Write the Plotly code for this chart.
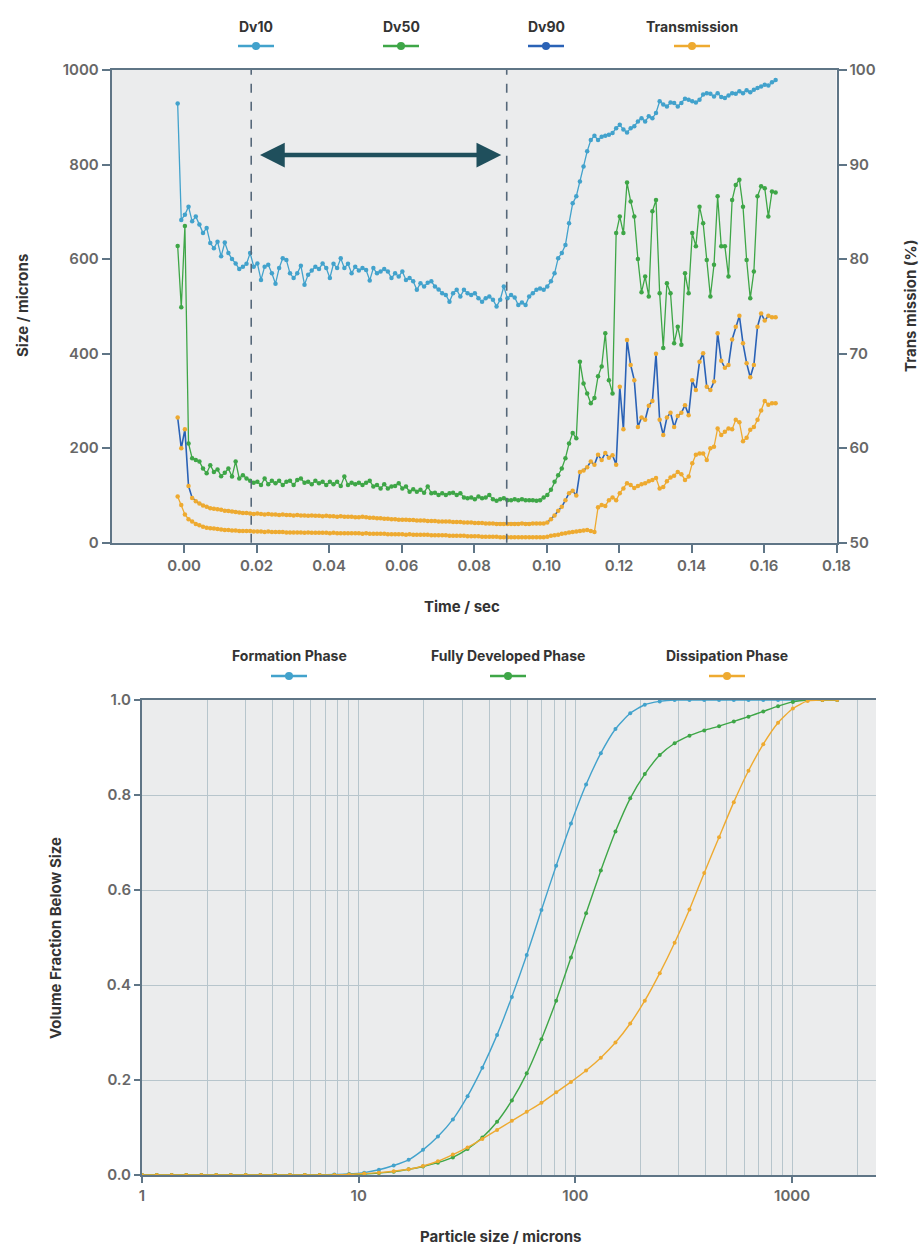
import plotly.graph_objects as go

# ---------------- data: spray time history ----------------
time_start = -0.0018
time_step = 0.001

dv10 = [929, 683, 694, 711, 680, 690, 673, 655, 666, 634,
        623, 637, 606, 635, 613, 600, 591, 579, 584, 590,
        613, 584, 591, 556, 584, 588, 570, 548, 581, 602,
        598, 570, 560, 570, 586, 546, 567, 576, 584, 579,
        591, 581, 560, 590, 581, 602, 581, 590, 570, 584,
        576, 581, 577, 555, 581, 570, 574, 579, 574, 560,
        570, 563, 574, 556, 560, 553, 535, 549, 542, 550,
        553, 542, 536, 528, 524, 510, 528, 535, 521, 535,
        528, 524, 528, 517, 510, 517, 521, 514, 500, 514,
        542, 517, 524, 519, 503, 508, 503, 521, 528, 535,
        538, 535, 542, 553, 570, 602, 613, 630, 676, 718,
        733, 764, 796, 828, 852, 861, 852, 859, 861, 863,
        867, 877, 884, 874, 868, 877, 881, 891, 898, 891,
        902, 898, 909, 934, 927, 923, 931, 930, 923, 930,
        939, 937, 934, 931, 937, 948, 951, 950, 944, 951,
        943, 941, 946, 951, 950, 955, 951, 957, 953, 958,
        962, 965, 969, 967, 974, 979]

dv50 = [628, 498, 670, 210, 179, 175, 172, 157, 147, 164,
        150, 155, 141, 148, 157, 140, 172, 136, 143, 136,
        131, 127, 129, 122, 136, 124, 131, 126, 131, 122,
        129, 131, 122, 133, 136, 127, 129, 124, 131, 126,
        129, 122, 129, 124, 129, 120, 140, 122, 127, 124,
        127, 122, 127, 131, 119, 122, 115, 124, 115, 119,
        120, 126, 115, 119, 108, 113, 108, 112, 106, 119,
        105, 106, 101, 105, 101, 105, 106, 101, 105, 96,
        94, 96, 92, 98, 94, 96, 101, 92, 89, 92,
        94, 90, 90, 92, 90, 92, 90, 90, 90, 89,
        90, 96, 101, 112, 129, 143, 157, 179, 210, 232,
        221, 383, 337, 316, 295, 306, 352, 373, 443, 344,
        316, 655, 690, 655, 762, 722, 690, 600, 530, 563,
        521, 701, 725, 528, 412, 549, 528, 422, 457, 419,
        570, 528, 655, 627, 711, 676, 598, 521, 588, 733,
        627, 627, 563, 725, 757, 768, 711, 598, 517, 574,
        733, 754, 750, 690, 743, 741]

dv90 = [265, 200, 240, 120, 95, 88, 83, 79, 76, 73,
        72, 71, 70, 68, 67, 66, 65, 64, 63, 63,
        62, 61, 62, 61, 60, 61, 60, 60, 59, 60,
        59, 59, 58, 59, 58, 58, 57, 58, 57, 57,
        56, 57, 56, 56, 55, 56, 55, 55, 55, 54,
        54, 55, 54, 53, 53, 52, 52, 51, 51, 50,
        50, 49, 49, 49, 48, 48, 47, 47, 47, 46,
        46, 46, 45, 45, 45, 45, 44, 44, 44, 43,
        43, 43, 42, 42, 42, 41, 41, 41, 40, 40,
        40, 40, 40, 40, 40, 41, 40, 40, 41, 41,
        41, 41, 43, 50, 58, 68, 76, 90, 105, 110,
        100, 150, 153, 160, 172, 165, 186, 175, 190, 180,
        185, 165, 330, 240, 429, 376, 344, 245, 265, 260,
        290, 300, 400, 260, 228, 265, 275, 245, 268, 275,
        291, 270, 344, 323, 383, 401, 330, 323, 341, 443,
        385, 370, 376, 430, 457, 480, 422, 380, 350, 376,
        457, 485, 470, 480, 477, 477]

transmission = [54.9, 54.0, 53.0, 52.5, 52.25, 52.0, 51.85, 51.7, 51.6, 51.55,
                51.5, 51.45, 51.4, 51.35, 51.35, 51.3, 51.3, 51.25, 51.25, 51.25,
                51.25, 51.2, 51.2, 51.2, 51.15, 51.2, 51.15, 51.15, 51.15, 51.15,
                51.1, 51.1, 51.1, 51.1, 51.1, 51.05, 51.1, 51.05, 51.05, 51.05,
                51.05, 51.05, 51.0, 51.05, 51.0, 51.0, 51.0, 51.0, 51.0, 51.0,
                51.0, 50.95, 51.0, 50.95, 50.95, 50.95, 50.95, 50.95, 50.9, 50.9,
                50.9, 50.9, 50.9, 50.85, 50.9, 50.85, 50.85, 50.85, 50.85, 50.85,
                50.8, 50.8, 50.8, 50.8, 50.8, 50.75, 50.75, 50.75, 50.75, 50.75,
                50.7, 50.7, 50.7, 50.7, 50.65, 50.65, 50.65, 50.65, 50.65, 50.6,
                50.6, 50.6, 50.6, 50.6, 50.6, 50.6, 50.6, 50.6, 50.6, 50.6,
                50.6, 50.6, 50.65, 50.75, 50.8, 50.85, 50.95, 51.0, 51.1, 51.15,
                51.2, 51.25, 51.3, 51.35, 51.25, 51.15, 53.75, 54.0, 53.9, 54.5,
                54.8, 54.5, 55.25, 55.75, 56.3, 56.1, 55.8, 56.0, 56.2, 56.3,
                56.5, 56.65, 56.85, 55.75, 55.9, 56.5, 56.9, 57.1, 57.5, 57.25,
                56.65, 57.0, 58.4, 59.3, 59.45, 59.45, 58.75, 60.0, 60.15, 62.1,
                61.4, 61.75, 62.1, 62.0, 63.0, 62.75, 60.75, 61.1, 61.95, 62.25,
                63.0, 64.0, 65.0, 64.6, 64.75, 64.75]

time_s = [round(time_start + time_step * i, 4) for i in range(len(dv10))]

time_ticks = [0.0, 0.02, 0.04, 0.06, 0.08, 0.10, 0.12, 0.14, 0.16, 0.18]
time_tick_labels = ["0.00", "0.02", "0.04", "0.06", "0.08", "0.10", "0.12", "0.14", "0.16", "0.18"]
phase_bounds = [0.0185, 0.089]
arrow_ends = [0.0205, 0.0875]
arrow_level = 820

# ---------------- data: cumulative size distributions ----------------
particle_size = [1.00, 1.17, 1.37, 1.60, 1.88, 2.20, 2.57, 3.01, 3.52, 4.12,
                 4.82, 5.64, 6.60, 7.72, 9.03, 10.6, 12.4, 14.5, 17.0, 19.8,
                 23.2, 27.2, 31.8, 37.2, 43.5, 50.9, 59.6, 69.7, 81.5, 95.4,
                 112, 131, 153, 179, 209, 245, 287, 336, 393, 460,
                 538, 629, 736, 861, 1008, 1179, 1380, 1614]

formation = [0, 0, 0, 0, 0, 0, 0, 0, 0, 0,
             0, 0, 0, 0.001, 0.002, 0.005, 0.011, 0.02, 0.032, 0.053,
             0.081, 0.117, 0.166, 0.226, 0.295, 0.375, 0.463, 0.558, 0.651, 0.740,
             0.822, 0.888, 0.939, 0.972, 0.99, 0.997, 1.0, 1.0, 1.0, 1.0,
             1.0, 1.0, 1.0, 1.0, 1.0, 1.0, 1.0, 1.0]

developed = [0, 0, 0, 0, 0, 0, 0, 0, 0, 0,
             0, 0, 0, 0, 0.001, 0.002, 0.004, 0.007, 0.012, 0.018,
             0.026, 0.037, 0.055, 0.079, 0.112, 0.157, 0.214, 0.286, 0.367, 0.458,
             0.551, 0.641, 0.723, 0.793, 0.844, 0.884, 0.909, 0.925, 0.936, 0.945,
             0.955, 0.965, 0.976, 0.987, 0.996, 1.0, 1.0, 1.0]

dissipation = [0, 0, 0, 0, 0, 0, 0, 0, 0, 0,
               0, 0, 0, 0, 0.001, 0.003, 0.005, 0.008, 0.012, 0.019,
               0.029, 0.043, 0.058, 0.076, 0.095, 0.114, 0.133, 0.152, 0.174, 0.196,
               0.220, 0.247, 0.279, 0.319, 0.367, 0.425, 0.489, 0.559, 0.636, 0.711,
               0.785, 0.851, 0.907, 0.952, 0.982, 0.998, 1.0, 1.0]

size_ticks = [1, 10, 100, 1000]
size_minor = [2, 3, 4, 5, 6, 7, 8, 9, 20, 30, 40, 50, 60, 70, 80, 90,
              200, 300, 400, 500, 600, 700, 800, 900, 2000]
fraction_ticks = [0.0, 0.2, 0.4, 0.6, 0.8, 1.0]

# ---------------- styling ----------------
W, H = 922, 1249
C_BLUE = "#42a2cc"
C_GREEN = "#3ea647"
C_DARKBLUE = "#2a62b6"
C_ORANGE = "#eeaa30"
AXIS = "#5f7586"
BG = "#ebeced"
GRID = "#b7c5cc"
FONT = "Inter"
TICKFONT = dict(family=FONT, size=15, color="#676767", weight=600)


def px(x):
    return x / W


def py(y):
    return 1 - y / H


fig = go.Figure()

line_kw = dict(width=1.3)
mk = 4.5

fig.add_trace(go.Scatter(x=time_s, y=dv10, mode="lines+markers", name="Dv10",
                         line=dict(color=C_BLUE, **line_kw), marker=dict(size=mk, color=C_BLUE),
                         xaxis="x", yaxis="y", showlegend=False))
fig.add_trace(go.Scatter(x=time_s, y=dv50, mode="lines+markers", name="Dv50",
                         line=dict(color=C_GREEN, **line_kw), marker=dict(size=mk, color=C_GREEN),
                         xaxis="x", yaxis="y", showlegend=False))
fig.add_trace(go.Scatter(x=time_s, y=dv90, mode="lines", name="Dv90",
                         line=dict(color=C_DARKBLUE, width=1.6),
                         xaxis="x", yaxis="y", showlegend=False))
fig.add_trace(go.Scatter(x=time_s, y=dv90, mode="markers", name="Dv90 points",
                         marker=dict(size=mk, color=C_ORANGE),
                         xaxis="x", yaxis="y", showlegend=False))
fig.add_trace(go.Scatter(x=time_s, y=transmission, mode="lines+markers", name="Transmission",
                         line=dict(color=C_ORANGE, **line_kw), marker=dict(size=mk, color=C_ORANGE),
                         xaxis="x", yaxis="y2", showlegend=False))

for name, vals, col in [("Formation Phase", formation, C_BLUE),
                        ("Fully Developed Phase", developed, C_GREEN),
                        ("Dissipation Phase", dissipation, C_ORANGE)]:
    fig.add_trace(go.Scatter(x=particle_size, y=vals, mode="lines+markers", name=name,
                             line=dict(color=col, width=1.4, shape="spline", smoothing=0.6),
                             marker=dict(size=4, color=col),
                             xaxis="x3", yaxis="y3", showlegend=False))

shapes = []
for tb in phase_bounds:
    shapes.append(dict(type="line", xref="x", yref="y domain", x0=tb, x1=tb, y0=0, y1=1,
                       line=dict(color="#56687a", width=1.6, dash="dash")))

annotations = []
annotations.append(dict(x=arrow_ends[1], y=arrow_level, ax=arrow_ends[0], ay=arrow_level,
                        xref="x", yref="y", axref="x", ayref="y", text="", showarrow=True,
                        arrowhead=2, arrowside="end+start", arrowsize=1.1, arrowwidth=4.5,
                        arrowcolor="#1f4f5c"))


def legend_item(label, color, cx, ty, sy):
    annotations.append(dict(x=px(cx), y=py(ty), xref="paper", yref="paper", text=label,
                            showarrow=False, xanchor="center", yanchor="middle",
                            font=dict(family=FONT, size=14, color="#333333", weight=700)))
    shapes.append(dict(type="line", xref="paper", yref="paper", x0=px(cx - 18), x1=px(cx + 18),
                       y0=py(sy), y1=py(sy), line=dict(color=color, width=2.5)))
    r = 4
    shapes.append(dict(type="circle", xref="paper", yref="paper", x0=px(cx - r), x1=px(cx + r),
                       y0=py(sy + r), y1=py(sy - r), fillcolor=color, line=dict(color=color, width=0)))


for lab, col, cx in [("Dv10", C_BLUE, 256), ("Dv50", C_GREEN, 401),
                     ("Dv90", C_DARKBLUE, 546), ("Transmission", C_ORANGE, 692)]:
    legend_item(lab, col, cx, 27, 46)
for lab, col, cx in [("Formation Phase", C_BLUE, 289), ("Fully Developed Phase", C_GREEN, 508),
                     ("Dissipation Phase", C_ORANGE, 727)]:
    legend_item(lab, col, cx, 655, 676)

TITLEFONT = dict(family=FONT, size=15, color="#333333", weight=700)
for text, x, y, ang in [("Size / microns", 22, 306, -90),
                        ("Trans mission (%)", 910, 306, -90),
                        ("Time / sec", 462, 606, 0),
                        ("Volume Fraction Below Size", 55, 938, -90),
                        ("Particle size / microns", 500, 1236, 0)]:
    annotations.append(dict(x=px(x), y=py(y), xref="paper", yref="paper", text=text,
                            showarrow=False, textangle=ang, xanchor="center", yanchor="middle",
                            font=TITLEFONT))

axis_common = dict(showline=True, linecolor=AXIS, linewidth=2, ticks="outside",
                   tickcolor=AXIS, tickwidth=2, ticklen=8, tickfont=TICKFONT,
                   showgrid=False, zeroline=False, automargin=False)

fig.update_layout(
    width=W, height=H,
    margin=dict(l=0, r=0, t=0, b=0, pad=0),
    paper_bgcolor="white",
    plot_bgcolor=BG,
    showlegend=False,
    xaxis=dict(domain=[px(111.7), px(836.5)], anchor="y", range=[-0.02, 0.18],
               tickvals=time_ticks, ticktext=time_tick_labels, mirror=True, **axis_common),
    yaxis=dict(domain=[py(542.8), py(70)], anchor="x", range=[0, 1000],
               tickvals=[0, 200, 400, 600, 800, 1000], **axis_common),
    yaxis2=dict(overlaying="y", side="right", anchor="x", range=[50, 100],
                tickvals=[50, 60, 70, 80, 90, 100], **axis_common),
    xaxis3=dict(domain=[px(142), px(876)], anchor="y3", type="log", range=[0, 3.387],
                tickvals=size_ticks, ticktext=[str(v) for v in size_ticks],
                showline=True, linecolor=AXIS, linewidth=2, ticks="outside", tickcolor=AXIS,
                tickwidth=1.5, ticklen=6, tickfont=TICKFONT, mirror=True, automargin=False,
                showgrid=True, gridcolor=GRID, gridwidth=1, zeroline=False,
                minor=dict(tickvals=size_minor, showgrid=True, gridcolor=GRID, gridwidth=1, ticks="")),
    yaxis3=dict(domain=[py(1175), py(700)], anchor="x3", range=[0, 1.0],
                tickvals=fraction_ticks, ticktext=["%.1f" % v for v in fraction_ticks],
                showline=True, linecolor=AXIS, linewidth=2, ticks="outside", tickcolor=AXIS,
                tickwidth=1.5, ticklen=6, tickfont=TICKFONT, automargin=False,
                showgrid=True, gridcolor=GRID, gridwidth=1, zeroline=False),
    shapes=shapes,
    annotations=annotations,
)

fig.write_html("out.html", config={"displayModeBar": False},
               post_script="document.body.style.margin='0px'; document.body.style.overflow='hidden';")
